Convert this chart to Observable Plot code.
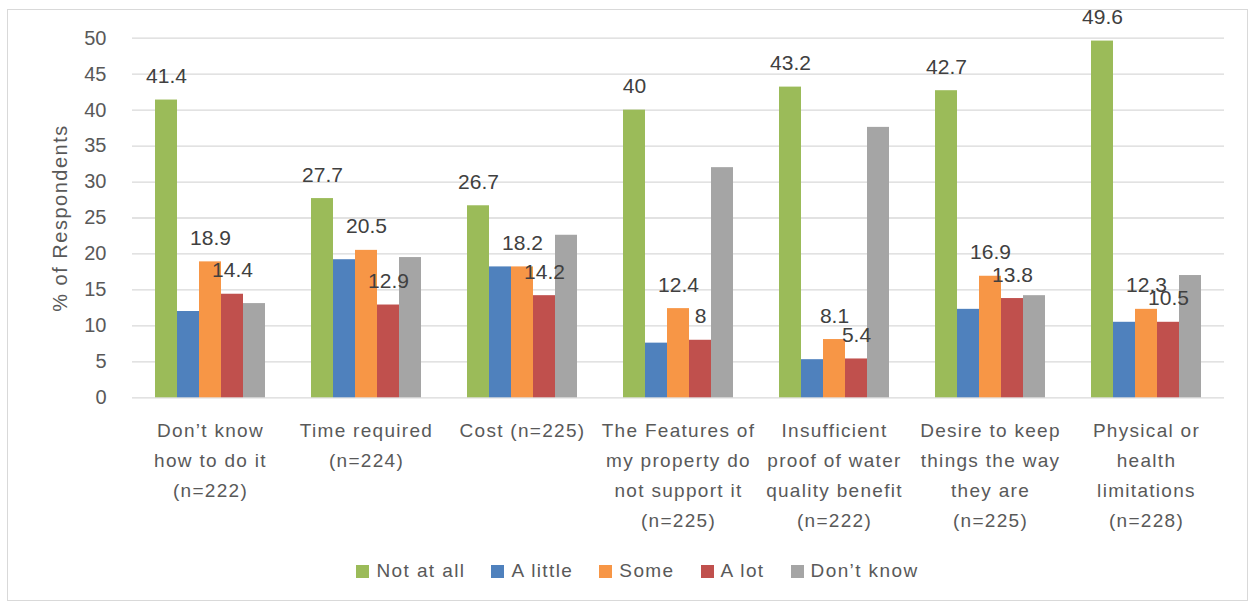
<!DOCTYPE html>
<html>
<head>
<meta charset="utf-8">
<script src="https://cdn.jsdelivr.net/npm/d3@7"></script>
<script src="https://cdn.jsdelivr.net/npm/@observablehq/plot@0.6"></script>
<style>
  html, body { margin: 0; padding: 0; background: #fff; }
  #frame { position: absolute; left: 7px; top: 9px; width: 1239px; height: 590px; border: 1px solid #d9d9d9; background: #fff; }
  #legend { display: flex; justify-content: center; align-items: center; gap: 26px; margin-top: 10px; padding-left: 20px;
            font-family: "Liberation Sans", Arial, sans-serif; font-size: 19px; color: #595959; letter-spacing: 1.4px; }
  #legend .item { display: flex; align-items: center; gap: 7px; }
  #legend .sw { width: 13px; height: 13px; display: inline-block; }
  #chart g[aria-label="fx-axis tick label"] text { letter-spacing: 1.3px; }
  #chart g[aria-label="y-axis label"] text { letter-spacing: 1.5px; }
</style>
</head>
<body>
<div id="frame"><div id="chart"></div><div id="legend"></div></div>
<script>
const categories = [
  "Don’t know how to do it (n=222)",
  "Time required (n=224)",
  "Cost (n=225)",
  "The Features of my property do not support it (n=225)",
  "Insufficient proof of water quality benefit (n=222)",
  "Desire to keep things the way they are (n=225)",
  "Physical or health limitations (n=228)"
];
const categoryLabels = [
  "Don’t know\nhow to do it\n(n=222)",
  "Time required\n(n=224)",
  "Cost (n=225)",
  "The Features of\nmy property do\nnot support it\n(n=225)",
  "Insufficient\nproof of water\nquality benefit\n(n=222)",
  "Desire to keep\nthings the way\nthey are\n(n=225)",
  "Physical or\nhealth\nlimitations\n(n=228)"
];
const seriesNames = ["Not at all", "A little", "Some", "A lot", "Don’t know"];
const seriesColors = ["#9BBB59", "#4F81BD", "#F79646", "#C0504D", "#A5A5A5"];
const notAtAll = [41.4, 27.7, 26.7, 40, 43.2, 42.7, 49.6];
const aLittle  = [12.0, 19.2, 18.2, 7.6, 5.3, 12.3, 10.5];
const some     = [18.9, 20.5, 18.2, 12.4, 8.1, 16.9, 12.3];
const aLot     = [14.4, 12.9, 14.2, 8, 5.4, 13.8, 10.5];
const dontKnow = [13.1, 19.5, 22.6, 32.0, 37.6, 14.2, 17.0];
const labelledSeries = ["Not at all", "Some", "A lot"];
const yTicks = [0, 5, 10, 15, 20, 25, 30, 35, 40, 45, 50];

const seriesValues = [notAtAll, aLittle, some, aLot, dontKnow];
const data = [];
categories.forEach((c, i) => {
  seriesNames.forEach((s, j) => {
    data.push({cat: c, series: s, value: seriesValues[j][i]});
  });
});
const labelMap = new Map(categories.map((c, i) => [c, categoryLabels[i]]));

const chart = Plot.plot({
  width: 1239,
  height: 540,
  marginLeft: 121,
  marginRight: 21,
  marginTop: 27.7,
  marginBottom: 152.7,
  style: {fontFamily: "'Liberation Sans', Arial, sans-serif", color: "#595959", background: "#fff", overflow: "visible"},
  fx: {domain: categories, padding: 0, label: null},
  x: {domain: seriesNames, paddingInner: 0, paddingOuter: 1.0, axis: null},
  y: {domain: [0, 50]},
  color: {domain: seriesNames, range: seriesColors},
  marks: [
    Plot.gridY(yTicks, {stroke: "#d9d9d9", strokeOpacity: 1, strokeWidth: 1.3}),
    Plot.barY(data, {fx: "cat", x: "series", y: "value", fill: "series"}),
    Plot.text(data.filter(d => labelledSeries.includes(d.series)), {
      fx: "cat", x: "series", y: "value", text: d => String(d.value),
      lineAnchor: "bottom", dy: -17, fontSize: 21, fill: "#404040"
    }),
    Plot.axisY({ticks: yTicks, tickSize: 0, tickPadding: 26, fontSize: 20,
      label: "% of Respondents", labelAnchor: "center", labelArrow: "none", labelOffset: 80}),
    Plot.axisFx({anchor: "bottom", tickSize: 0, tickPadding: 18, fontSize: 19, lineHeight: 1.58,
      lineAnchor: "top", tickFormat: c => labelMap.get(c), label: null})
  ]
});
document.getElementById("chart").appendChild(chart);

const legend = document.getElementById("legend");
seriesNames.forEach((s, i) => {
  const item = document.createElement("div");
  item.className = "item";
  const sw = document.createElement("span");
  sw.className = "sw";
  sw.style.background = seriesColors[i];
  const t = document.createElement("span");
  t.textContent = s;
  item.appendChild(sw);
  item.appendChild(t);
  legend.appendChild(item);
});
</script>
</body>
</html>
